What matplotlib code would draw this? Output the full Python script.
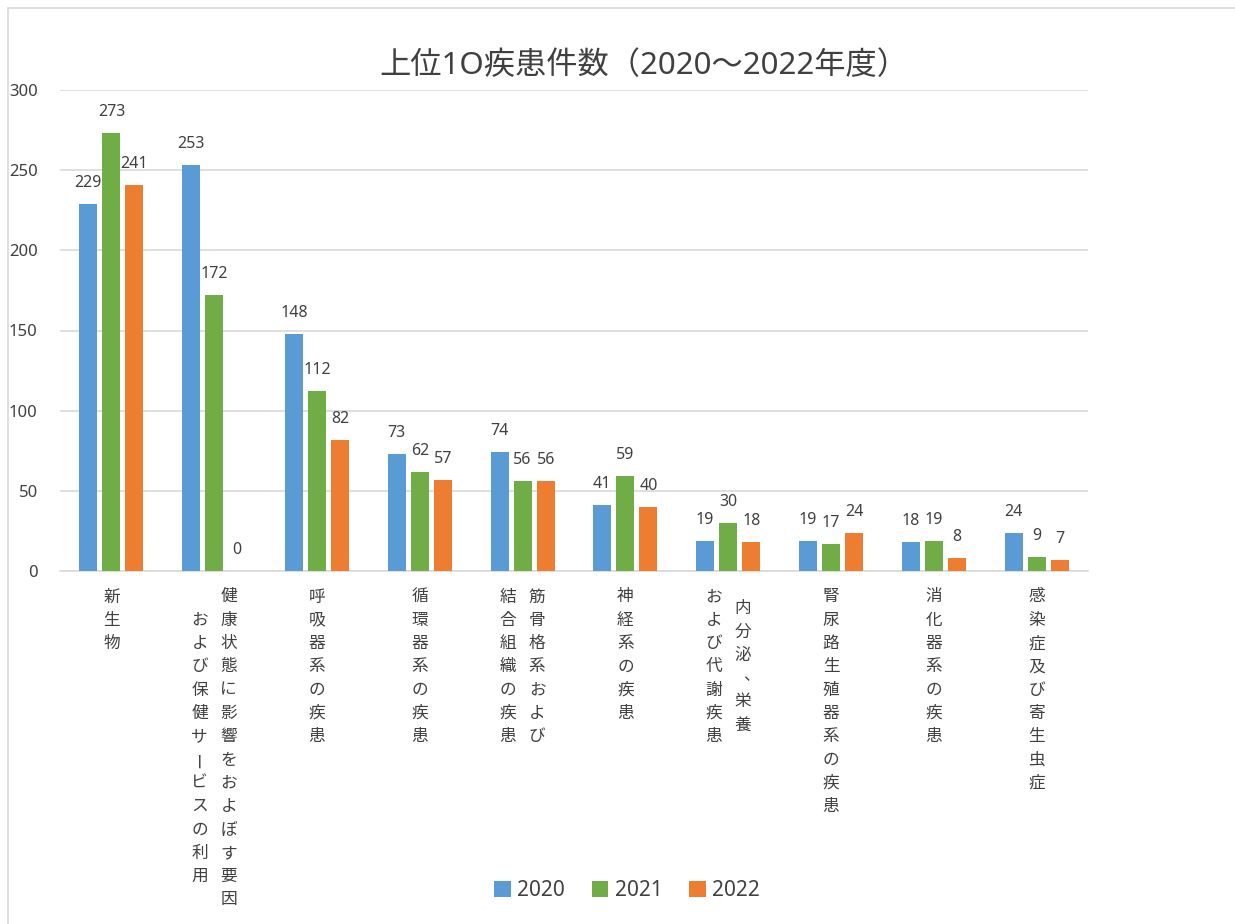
import numpy as np
import matplotlib
matplotlib.use("Agg")
import matplotlib.pyplot as plt
from matplotlib.patches import Rectangle

plt.rcParams['font.family'] = ['Noto Sans', 'Noto Sans CJK JP', 'DejaVu Sans']

# data
categories = ["新生物",
              "健康状態に影響をおよぼす要因\nおよび保健サービスの利用",
              "呼吸器系の疾患",
              "循環器系の疾患",
              "筋骨格系および\n結合組織の疾患",
              "神経系の疾患",
              "内分泌、栄養\nおよび代謝疾患",
              "腎尿路生殖器系の疾患",
              "消化器系の疾患",
              "感染症及び寄生虫症"]
years = ["2020", "2021", "2022"]
v2020 = [229, 253, 148, 73, 74, 41, 19, 19, 18, 24]
v2021 = [273, 172, 112, 62, 56, 59, 30, 17, 19, 9]
v2022 = [241, 0, 82, 57, 56, 40, 18, 24, 8, 7]
title = "上位1O疾患件数（2020～2022年度）"

colors = ["#5B9BD5", "#70AD47", "#ED7D31"]
txt = "#404040"
cjk = ['Noto Sans CJK JP', 'DejaVu Sans']

fig = plt.figure(figsize=(12.35, 9.24), dpi=100)
ax = fig.add_axes([60/1235, 1-571/924, (1088-60)/1235, (571-90)/924])

# outer chart frame (cropped on right / bottom like the reference)
fig.patches.append(Rectangle((8/1235, -0.1), 1.2, 1-8/924+0.1, transform=fig.transFigure,
                             fill=False, edgecolor="#D9D9D9", lw=1.2))

x = np.arange(len(categories))
offs = [-0.224, 0.0, 0.224]
w = 0.175
for vals, off, c, yr in zip([v2020, v2021, v2022], offs, colors, years):
    bars = ax.bar(x + off, vals, width=w, color=c, label=yr, zorder=3)
    for b, v in zip(bars, vals):
        ax.annotate(str(v), xy=(b.get_x() + b.get_width()/2, v), xytext=(0, 13),
                    textcoords="offset pixels", ha="center", va="bottom",
                    fontsize=11.5, color=txt)

ax.set_xlim(-0.5, len(categories) - 0.5)
ax.set_ylim(0, 300)
ax.set_yticks(range(0, 301, 50))
ax.tick_params(axis="y", length=0, pad=16, labelsize=12, labelcolor=txt)
ax.set_xticks([])
ax.grid(axis="y", color="#D9D9D9", lw=1.2, zorder=0)
for s in ["left", "right", "top"]:
    ax.spines[s].set_visible(False)
ax.spines["bottom"].set_color("#D9D9D9")
ax.spines["bottom"].set_linewidth(1.2)

# vertical category labels, columns read right to left
step = 23.3
colgap = 29
for i, lab in enumerate(categories):
    cols = lab.split("\n")
    n = len(cols)
    maxlen = max(len(c) for c in cols)
    for j, col in enumerate(cols):
        dx = ((n - 1) / 2 - j) * colgap
        start = (maxlen - len(col)) * step / 2
        for k, ch in enumerate(col):
            dy = -(26 + start + k * step)
            rot = 0
            ex, ey = 0, 0
            if ch == "ー":
                rot = 90
            if ch == "、":
                ex, ey = 9, 3
            ax.annotate(ch, xy=(i, 0), xytext=(dx + ex, dy + ey), textcoords="offset pixels",
                        ha="center", va="center", fontsize=12, color=txt, family=cjk,
                        rotation=rot, annotation_clip=False)

fig.text(644/1235, 1-66/924, title, ha="center", va="center", fontsize=22.5, color=txt)

leg = ax.legend(loc="center", bbox_to_anchor=(627/1235, 1-891/924), bbox_transform=fig.transFigure,
                ncol=3, frameon=False, fontsize=15, handlelength=0.8, handleheight=0.8,
                handletextpad=0.3, columnspacing=1.3)
for t in leg.get_texts():
    t.set_color(txt)

fig.savefig("out.png", dpi=100)
